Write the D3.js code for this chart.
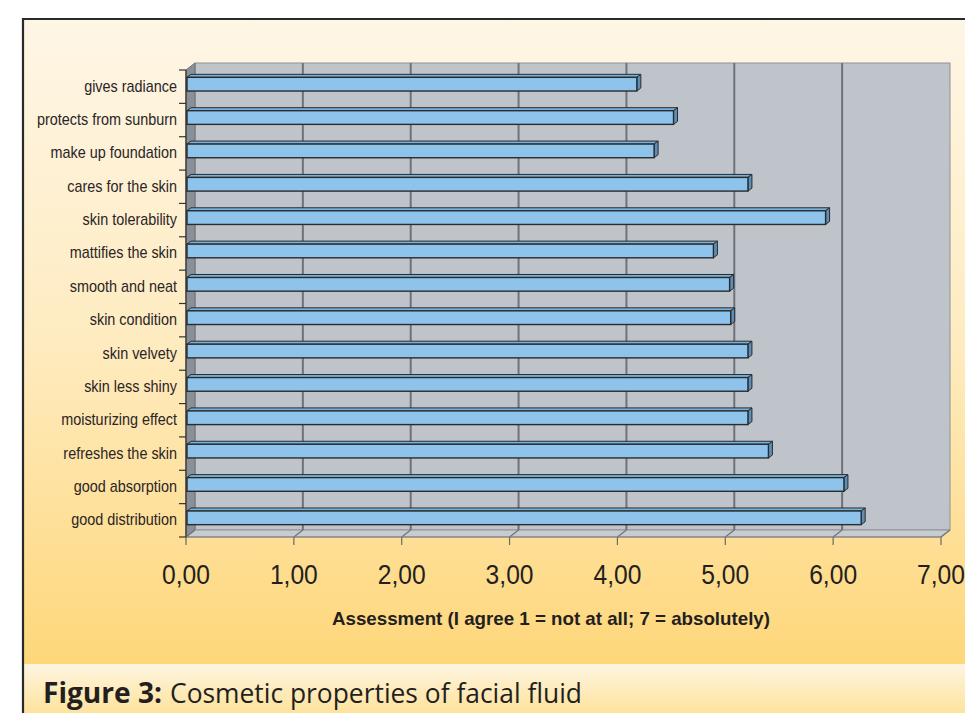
<!DOCTYPE html>
<html><head><meta charset="utf-8">
<script src="https://cdn.jsdelivr.net/npm/d3@7"></script>
<style>html,body{margin:0;padding:0;background:#fff;}svg{display:block;}</style>
</head><body>
<svg id="c" width="965" height="713"></svg>
<script>
const categories = ["gives radiance","protects from sunburn","make up foundation","cares for the skin","skin tolerability","mattifies the skin","smooth and neat","skin condition","skin velvety","skin less shiny","moisturizing effect","refreshes the skin","good absorption","good distribution"];
const values = [4.18,4.52,4.34,5.21,5.93,4.89,5.04,5.05,5.21,5.21,5.21,5.40,6.10,6.26];
const xTicks = [0,1,2,3,4,5,6,7];
const xTickLabels = ["0,00","1,00","2,00","3,00","4,00","5,00","6,00","7,00"];
const axisTitle = "Assessment (I agree 1 = not at all; 7 = absolutely)";
const captionBold = "Figure 3:";
const captionText = "Cosmetic properties of facial fluid";

const svg = d3.select("#c");
const defs = svg.append("defs");
const g1 = defs.append("linearGradient").attr("id","bg").attr("x1",0).attr("y1",0).attr("x2",0).attr("y2",1);
g1.append("stop").attr("offset","0%").attr("stop-color","#FEF6E6");
g1.append("stop").attr("offset","50%").attr("stop-color","#FEEBC0");
g1.append("stop").attr("offset","100%").attr("stop-color","#FED77A");
const g2 = defs.append("linearGradient").attr("id","cap").attr("x1",0).attr("y1",0).attr("x2",0).attr("y2",1);
g2.append("stop").attr("offset","0%").attr("stop-color","#FEF5E2");
g2.append("stop").attr("offset","100%").attr("stop-color","#FEE39B");

// frame backgrounds
svg.append("rect").attr("x",22).attr("y",18).attr("width",943).attr("height",646).attr("fill","url(#bg)");
svg.append("rect").attr("x",22).attr("y",664).attr("width",943).attr("height",49).attr("fill","url(#cap)");
svg.append("path").attr("d","M23,713 V19 H965").attr("fill","none").attr("stroke","#2a2a2a").attr("stroke-width",2.2);

const x = d3.scaleLinear().domain([0,7]).range([186,941]);
const y = d3.scaleBand().domain(categories).range([70,537]).paddingInner(0).paddingOuter(0);
const dx = 9, dy = -7;
const yTop = y.range()[0], yBot = y.range()[1];

// back wall
svg.append("rect").attr("x",x(0)+dx).attr("y",yTop+dy).attr("width",x(7)-x(0)).attr("height",yBot-yTop)
  .attr("fill","#BFC3CA").attr("stroke","#8E9298").attr("stroke-width",1);
// side wall
svg.append("polygon").attr("points",[[x(0),yTop],[x(0)+dx,yTop+dy],[x(0)+dx,yBot+dy],[x(0),yBot]].join(" "))
  .attr("fill","#8A9098").attr("stroke","#6c7077").attr("stroke-width",1);
// floor
svg.append("polygon").attr("points",[[x(0),yBot],[x(7),yBot],[x(7)+dx,yBot+dy],[x(0)+dx,yBot+dy]].join(" "))
  .attr("fill","#C8CBD0").attr("stroke","#8E9298").attr("stroke-width",1);

// back gridlines
svg.selectAll("line.grid").data(xTicks.filter(t=>t>0&&t<7)).join("line").attr("class","grid")
  .attr("x1",d=>x(d)+dx).attr("x2",d=>x(d)+dx).attr("y1",yTop+dy).attr("y2",yBot+dy)
  .attr("stroke","#6F7379").attr("stroke-width",2);
// floor diagonals
svg.selectAll("line.fd").data(xTicks).join("line").attr("class","fd")
  .attr("x1",d=>x(d)).attr("y1",yBot).attr("x2",d=>x(d)+dx).attr("y2",yBot+dy)
  .attr("stroke","#6F7379").attr("stroke-width",1.2);
// bottom ticks
svg.selectAll("line.bt").data(xTicks).join("line").attr("class","bt")
  .attr("x1",d=>x(d)).attr("x2",d=>x(d)).attr("y1",yBot).attr("y2",yBot+8)
  .attr("stroke","#6a6a6a").attr("stroke-width",1.2);
svg.append("line").attr("x1",x(0)).attr("x2",x(7)).attr("y1",yBot).attr("y2",yBot).attr("stroke","#7d8085").attr("stroke-width",1.2);

// left axis
svg.append("line").attr("x1",x(0)).attr("x2",x(0)).attr("y1",yTop).attr("y2",yBot).attr("stroke","#3a3a3a").attr("stroke-width",1.3);
const bounds = categories.map(c=>y(c)).concat([yBot]);
svg.selectAll("line.lt").data(bounds).join("line").attr("class","lt")
  .attr("x1",x(0)-7).attr("x2",x(0)).attr("y1",d=>d).attr("y2",d=>d)
  .attr("stroke","#333").attr("stroke-width",1.2);

// bars
const bw = y.bandwidth();
const bdx = 4, bdy = -3;
const bars = svg.selectAll("g.bar").data(categories.map((c,i)=>({c,v:values[i]}))).join("g").attr("class","bar");
bars.each(function(d){
  const g = d3.select(this);
  const x0 = x(0)+1, x1 = x(d.v);
  const yT = y(d.c)+bw*0.22, yB = y(d.c)+bw*0.63;
  g.append("polygon").attr("points",[[x0,yT],[x1,yT],[x1+bdx,yT+bdy],[x0+bdx,yT+bdy]].join(" "))
    .attr("fill","#76B2DD").attr("stroke","#2b2b2b").attr("stroke-width",1).attr("stroke-linejoin","round");
  g.append("polygon").attr("points",[[x1,yT],[x1+bdx,yT+bdy],[x1+bdx,yB+bdy],[x1,yB]].join(" "))
    .attr("fill","#5B8EB8").attr("stroke","#2b2b2b").attr("stroke-width",1).attr("stroke-linejoin","round");
  g.append("rect").attr("x",x0).attr("y",yT).attr("width",x1-x0).attr("height",yB-yT)
    .attr("fill","#8EC4EC").attr("stroke","#2b2b2b").attr("stroke-width",1.4);
});

// category labels
svg.selectAll("text.cat").data(categories).join("text").attr("class","cat")
  .attr("transform",d=>`translate(177,${y(d)+bw/2+5}) scale(0.9,1)`)
  .attr("text-anchor","end").attr("font-family","'Liberation Sans',Arial,sans-serif")
  .attr("font-size",16).attr("fill","#2a2526").text(d=>d);

// x tick labels
svg.selectAll("text.xt").data(xTicks).join("text").attr("class","xt")
  .attr("transform",d=>`translate(${x(d)},584) scale(0.88,1)`)
  .attr("text-anchor","middle").attr("font-family","'Liberation Sans',Arial,sans-serif")
  .attr("font-size",28).attr("fill","#231F20").text((d,i)=>xTickLabels[i]);

// axis title
svg.append("text").attr("x",332).attr("y",625).attr("textLength",438).attr("lengthAdjust","spacingAndGlyphs")
  .attr("font-family","'Liberation Sans',Arial,sans-serif").attr("font-weight","bold")
  .attr("font-size",18.5).attr("fill","#231F20").text(axisTitle);

// caption
svg.append("text").attr("x",43).attr("y",703).attr("textLength",119).attr("lengthAdjust","spacingAndGlyphs")
  .attr("font-family","'Open Sans',sans-serif").attr("font-weight","bold")
  .attr("font-size",28).attr("fill","#231F20").text(captionBold);
svg.append("text").attr("x",170).attr("y",703).attr("textLength",412).attr("lengthAdjust","spacingAndGlyphs")
  .attr("font-family","'Open Sans',sans-serif")
  .attr("font-size",28).attr("fill","#231F20").text(captionText);
</script>
</body></html>
